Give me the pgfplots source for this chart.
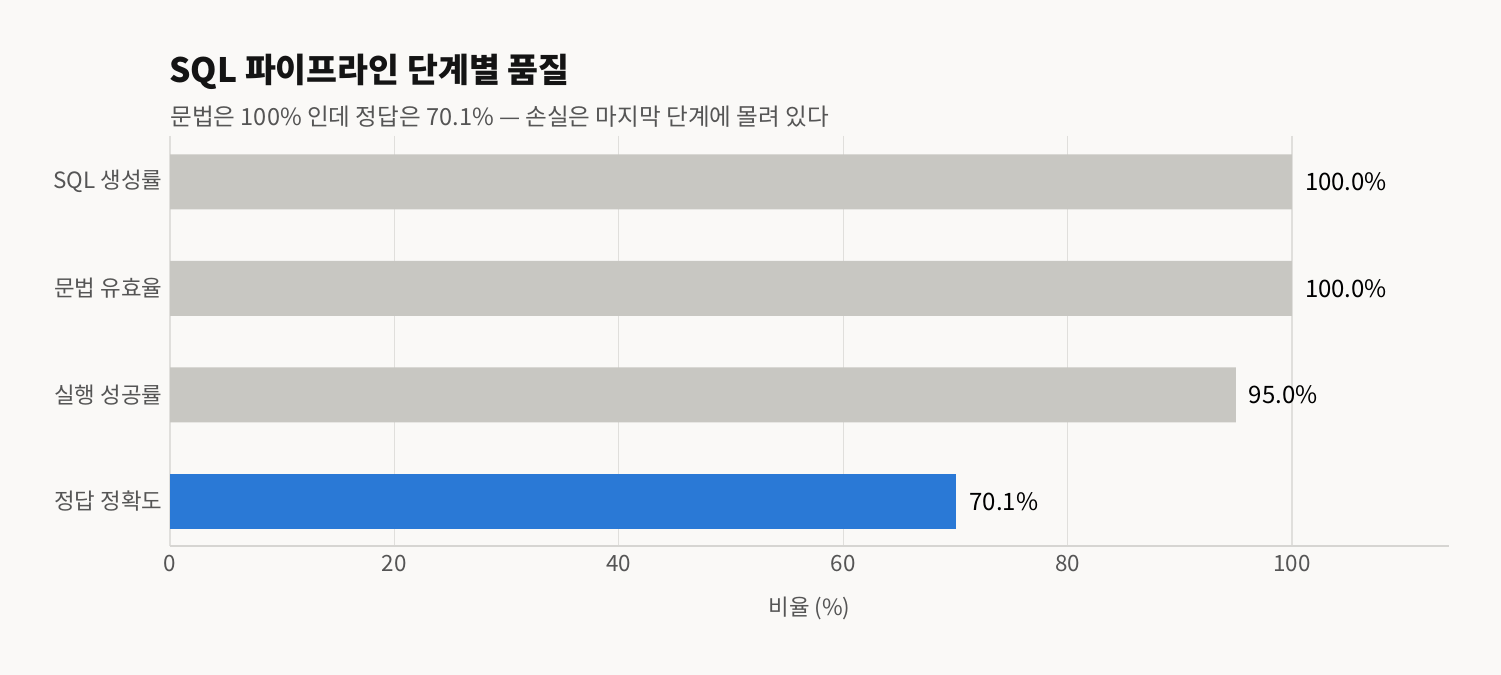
\documentclass[border=0pt]{standalone}
\usepackage{fontspec}
\setmainfont{Noto Sans CJK KR}
\usepackage{pgfplots}
\pgfplotsset{compat=1.18}
\definecolor{bg}{HTML}{FAF9F7}
\definecolor{barg}{HTML}{C8C7C2}
\definecolor{barb}{HTML}{2A79D6}
\definecolor{gridc}{HTML}{E0DFDC}
\definecolor{axc}{HTML}{D6D5D2}
\definecolor{subc}{HTML}{555555}
\begin{document}
\begin{tikzpicture}
\fill[bg] (0pt,0pt) rectangle (750.5pt,337.5pt);
\node[anchor=west,font=\fontsize{16.8pt}{19pt}\selectfont\bfseries,text=black!92,inner sep=0] at (84.5pt,301.5pt) {SQL 파이프라인 단계별 품질};
\node[anchor=west,font=\fontsize{11.8pt}{14pt}\selectfont,text=subc,inner sep=0] at (85pt,279pt) {문법은 100\% 인데 정답은 70.1\% — 손실은 마지막 단계에 몰려 있다};
\begin{axis}[
  at={(85pt,64.5pt)}, anchor=south west,
  scale only axis, width=639.5pt, height=205pt,
  xmin=0, xmax=114, ymin=-0.43, ymax=3.42, y dir=reverse,
  xbar, bar width=27.5pt, bar shift=0pt,
  axis x line*=bottom,
  axis y line*=left,
  x axis line style={draw=axc, line width=1pt, -},
  y axis line style={draw=none},
  xtick={0,20,40,60,80,100},
  ytick={0,1,2,3},
  yticklabels={SQL 생성률, 문법 유효율, 실행 성공률, 정답 정확도},
  tick style={draw=none},
  xmajorgrids, grid style={draw=gridc, line width=0.6pt},
  /pgf/number format/assume math mode=true,
  ticklabel style={font=\fontsize{11.2pt}{13pt}\selectfont, text=subc},
  xticklabel style={yshift=-1pt},
  yticklabel style={xshift=4pt},
  xlabel={비율 (\%)},
  xlabel style={font=\fontsize{11.2pt}{13pt}\selectfont, text=subc, yshift=-6pt},
  nodes near coords={\pgfmathprintnumber[fixed,fixed zerofill,precision=1]{\pgfplotspointmeta}\%},
  nodes near coords style={anchor=west, xshift=3pt, font=\fontsize{12pt}{14pt}\selectfont, text=black, /pgf/number format/assume math mode=true},
  point meta=x,
]
\addplot[fill=barg, draw=none] coordinates {(100,0) (100,1) (95,2)};
\addplot[fill=barb, draw=none] coordinates {(70.1,3)};
\end{axis}
\end{tikzpicture}
\end{document}
